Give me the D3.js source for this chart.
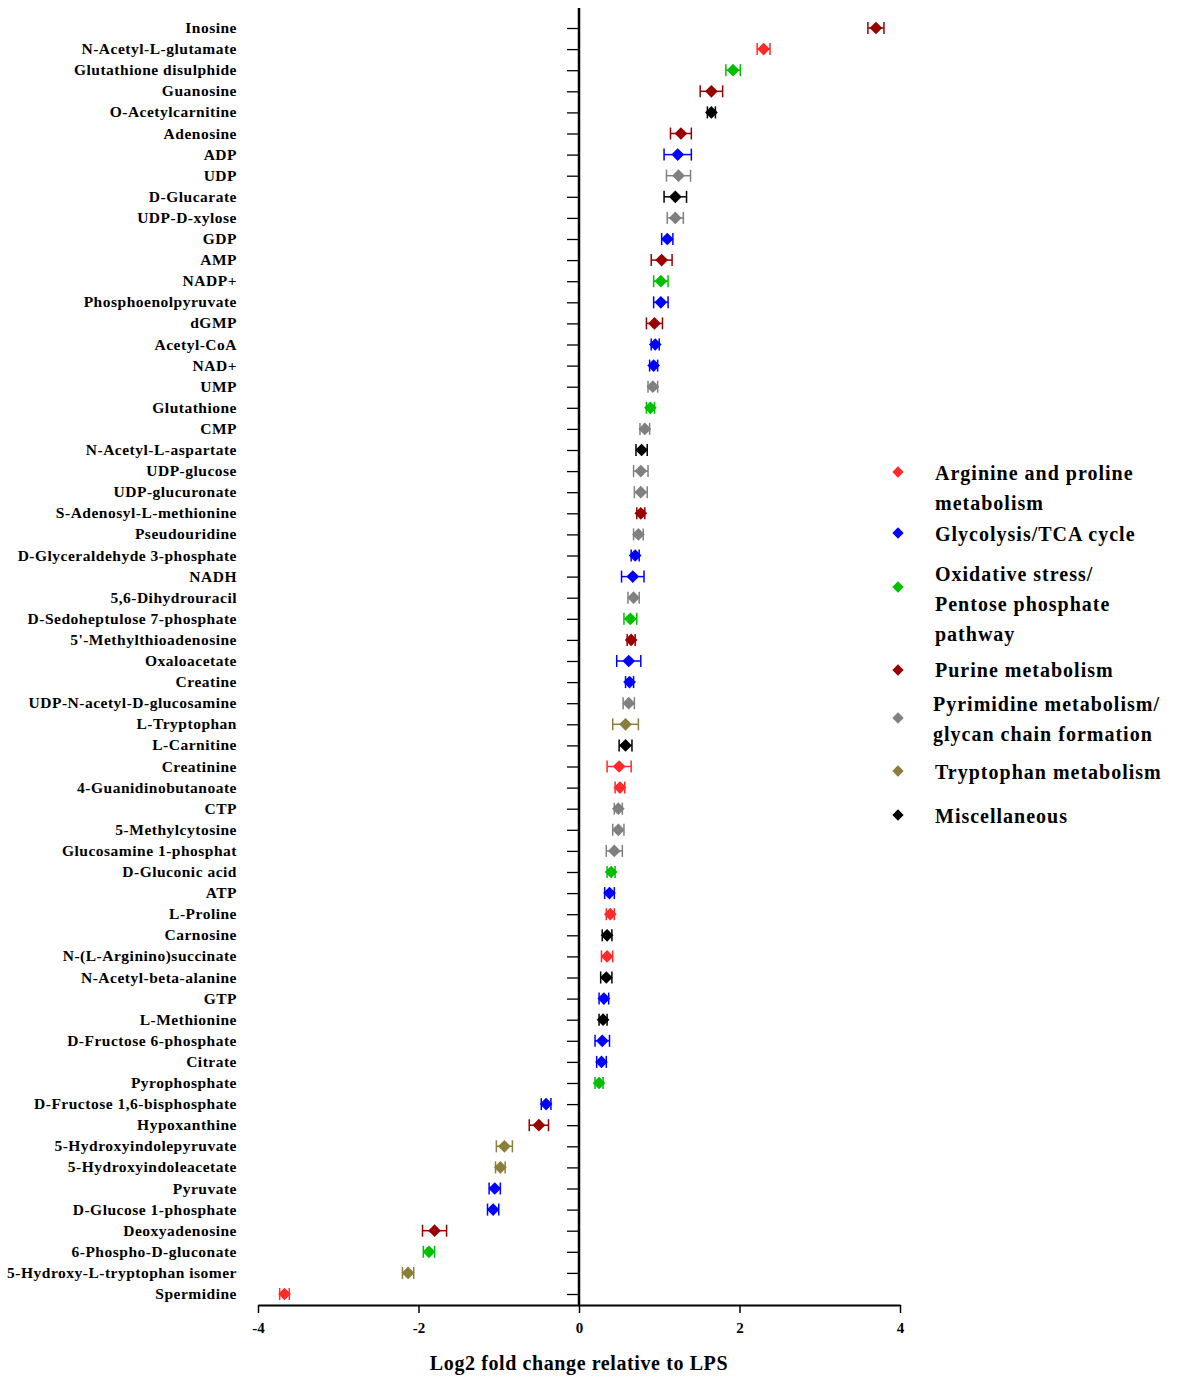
<!DOCTYPE html>
<html>
<head>
<meta charset="utf-8">
<script src="https://cdn.jsdelivr.net/npm/d3@7"></script>
<style>
body{margin:0;background:#fff;}
svg{font-family:"Liberation Serif","DejaVu Serif",serif;font-weight:bold;}
</style>
</head>
<body>
<script>
// data
var names = ["Inosine","N-Acetyl-L-glutamate","Glutathione disulphide","Guanosine","O-Acetylcarnitine","Adenosine","ADP","UDP","D-Glucarate","UDP-D-xylose","GDP","AMP","NADP+","Phosphoenolpyruvate","dGMP","Acetyl-CoA","NAD+","UMP","Glutathione","CMP","N-Acetyl-L-aspartate","UDP-glucose","UDP-glucuronate","S-Adenosyl-L-methionine","Pseudouridine","D-Glyceraldehyde 3-phosphate","NADH","5,6-Dihydrouracil","D-Sedoheptulose 7-phosphate","5'-Methylthioadenosine","Oxaloacetate","Creatine","UDP-N-acetyl-D-glucosamine","L-Tryptophan","L-Carnitine","Creatinine","4-Guanidinobutanoate","CTP","5-Methylcytosine","Glucosamine 1-phosphat","D-Gluconic acid","ATP","L-Proline","Carnosine","N-(L-Arginino)succinate","N-Acetyl-beta-alanine","GTP","L-Methionine","D-Fructose 6-phosphate","Citrate","Pyrophosphate","D-Fructose 1,6-bisphosphate","Hypoxanthine","5-Hydroxyindolepyruvate","5-Hydroxyindoleacetate","Pyruvate","D-Glucose 1-phosphate","Deoxyadenosine","6-Phospho-D-gluconate","5-Hydroxy-L-tryptophan isomer","Spermidine"];
var values = [3.7,2.3,1.92,1.65,1.65,1.27,1.23,1.24,1.2,1.2,1.1,1.03,1.02,1.02,0.94,0.95,0.93,0.92,0.89,0.82,0.78,0.77,0.77,0.77,0.74,0.7,0.67,0.68,0.64,0.65,0.62,0.63,0.62,0.58,0.58,0.5,0.51,0.49,0.49,0.44,0.4,0.38,0.39,0.35,0.35,0.34,0.31,0.3,0.29,0.28,0.25,-0.41,-0.5,-0.93,-0.98,-1.05,-1.07,-1.8,-1.87,-2.13,-3.67];
var errors = [0.1,0.08,0.09,0.14,0.05,0.13,0.17,0.15,0.14,0.1,0.07,0.13,0.09,0.09,0.1,0.05,0.05,0.06,0.05,0.06,0.07,0.09,0.08,0.05,0.06,0.05,0.14,0.07,0.08,0.05,0.15,0.05,0.07,0.16,0.08,0.15,0.06,0.05,0.07,0.1,0.05,0.06,0.05,0.06,0.07,0.07,0.06,0.05,0.09,0.06,0.05,0.06,0.12,0.1,0.06,0.07,0.07,0.15,0.07,0.07,0.06];
var groups = [3,0,2,3,6,3,1,4,6,4,1,3,2,1,3,1,1,4,2,4,6,4,4,3,4,1,1,4,2,3,1,1,4,5,6,0,0,4,4,4,2,1,0,6,0,6,1,6,1,1,2,1,3,5,5,1,1,3,2,5,0];
var groupNames = [["Arginine and proline","metabolism"],["Glycolysis/TCA cycle"],["Oxidative stress/","Pentose phosphate","pathway"],["Purine metabolism"],["Pyrimidine metabolism/","glycan chain formation"],["Tryptophan metabolism"],["Miscellaneous"]];
var colors = ["#ff2a2a","#0000ff","#00c000","#990000","#808080","#8b7d3a","#000000"];
var xTicks = [-4,-2,0,2,4];

var svg = d3.select("body").append("svg").attr("width",1179).attr("height",1378);
var x = d3.scaleLinear().domain([-4,4]).range([258,900]);
var y = d3.scalePoint().domain(names).range([28,1294]);

// y axis at zero
svg.append("g").attr("transform","translate("+x(0)+",0)")
  .call(d3.axisLeft(y).tickSize(12).tickFormat(""))
  .call(g=>g.select(".domain").remove())
  .call(g=>g.selectAll("line").attr("stroke-width",1.3));
svg.append("line").attr("x1",x(0)).attr("x2",x(0)).attr("y1",8).attr("y2",1305).attr("stroke","#000").attr("stroke-width",2.5);
svg.append("g").selectAll("text").data(names).enter().append("text")
  .attr("x",237).attr("y",d=>y(d)+5).attr("text-anchor","end").attr("font-size",15.5)
  .attr("letter-spacing","0.5px").text(d=>d);

// x axis
var xa = svg.append("g").attr("transform","translate(0,1305)")
  .call(d3.axisBottom(x).tickValues(xTicks).tickSize(8).tickSizeOuter(0).tickFormat(d=>String(d)));
xa.select(".domain").attr("stroke-width",2);
xa.selectAll("line").attr("stroke-width",1.5);
xa.selectAll("text").attr("font-size",15).attr("font-weight","bold").attr("font-family","Liberation Serif").attr("dy","1.1em");
svg.append("text").attr("x",579).attr("y",1370).attr("text-anchor","middle").attr("font-size",20)
  .attr("letter-spacing","0.6px").text("Log2 fold change relative to LPS");

function diamondAt(g,cx,cy,c){
  g.append("rect").attr("x",-4.5).attr("y",-4.5).attr("width",9).attr("height",9)
    .attr("transform","translate("+cx+","+cy+") rotate(45)").attr("fill",c);
}
var pts = svg.append("g").selectAll("g").data(names).enter().append("g");
pts.each(function(d,i){
  var g=d3.select(this), c=colors[groups[i]], yy=y(d);
  var x0=x(values[i]-errors[i]), x1=x(values[i]+errors[i]);
  g.append("line").attr("x1",x0).attr("x2",x1).attr("y1",yy).attr("y2",yy).attr("stroke",c).attr("stroke-width",1.5);
  [x0,x1].forEach(xx=>g.append("line").attr("x1",xx).attr("x2",xx).attr("y1",yy-6).attr("y2",yy+6).attr("stroke",c).attr("stroke-width",1.5));
  diamondAt(g,x(values[i]),yy,c);
});

// legend
var markY = [472,533,587,670,718,771,815];
var lineY = [[473,503],[534],[574,604,634],[670],[704,734],[772],[816]];
var leg = svg.append("g").selectAll("g").data(groupNames).enter().append("g");
leg.each(function(d,i){
  var g=d3.select(this);
  g.append("rect").attr("x",-4).attr("y",-4).attr("width",8).attr("height",8)
    .attr("transform","translate(898,"+markY[i]+") rotate(45)").attr("fill",colors[i]);
  var t=g.append("text").attr("font-size",20).attr("letter-spacing","1px");
  d.forEach((s,j)=>t.append("tspan").attr("x",i==4?933:935).attr("y",lineY[i][j]+7).text(s));
});
</script>
</body>
</html>
